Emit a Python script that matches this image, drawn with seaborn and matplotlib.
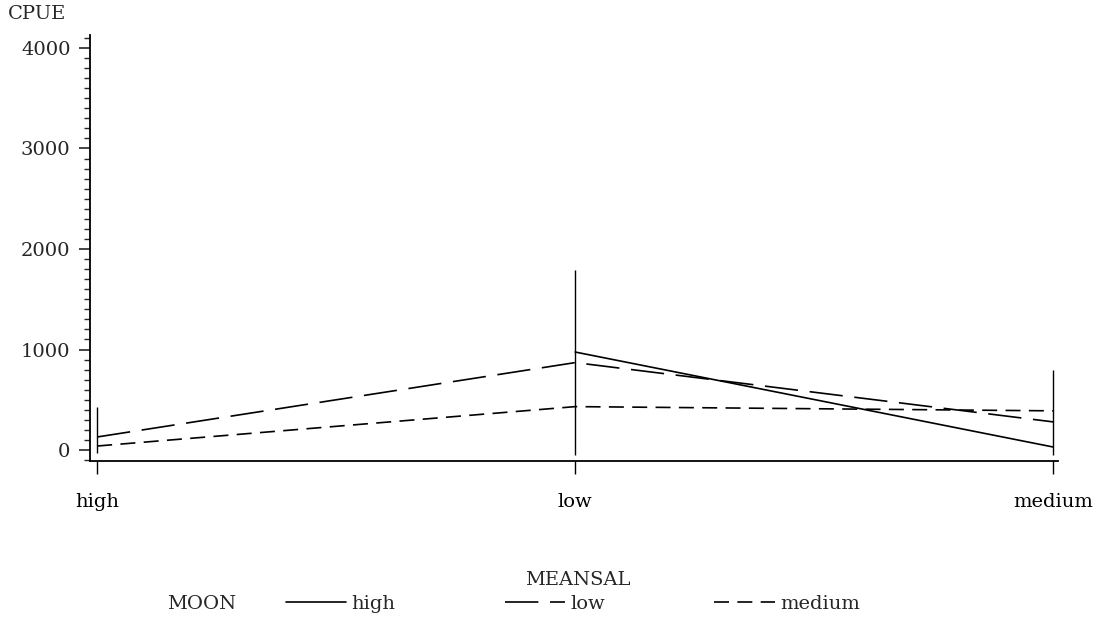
import numpy as np
import pandas as pd
import matplotlib
matplotlib.use("Agg")
import matplotlib.pyplot as plt
from matplotlib.ticker import MultipleLocator
import seaborn as sns

# ---- data ----
categories = ["high", "low", "medium"]          # MEANSAL
moon_levels = ["high", "low", "medium"]         # MOON
cpue_high = [np.nan, 975, 30]
cpue_low = [130, 870, 280]
cpue_medium = [40, 432, 390]
bar_lo = [-30, -50, -50]
bar_hi = [430, 1790, 800]

rows = []
for moon, vals in zip(moon_levels, [cpue_high, cpue_low, cpue_medium]):
    for c, v in zip(categories, vals):
        rows.append({"MEANSAL": c, "CPUE": v, "MOON": moon})
df = pd.DataFrame(rows)

sns.set_style("ticks")
plt.rcParams["font.family"] = ["DejaVu Serif"]
FS = 14

fig = plt.figure(figsize=(11.06, 6.21), dpi=100)
ax = fig.add_axes([90/1106, 1-461/621, 968/1106, 426/621])

palette = {"high": "black", "low": "black", "medium": "black"}
dashes = {"high": "", "low": (20, 7), "medium": (9, 5)}
sns.lineplot(data=df, x="MEANSAL", y="CPUE", hue="MOON", style="MOON",
             hue_order=moon_levels, style_order=moon_levels,
             palette=palette, dashes=dashes, linewidth=1.2,
             sort=False, ax=ax, legend=True)

pos = np.arange(len(categories))
ax.vlines(pos, bar_lo, bar_hi, colors="black", linewidth=1.0)

ax.set_xlim(-0.015, 2.01)
ax.set_ylim(-109, 4129)
ax.set_xticks(pos)
ax.set_xticklabels(categories, fontsize=FS)
ax.set_yticks([0, 1000, 2000, 3000, 4000])
ax.set_yticklabels(["0", "1000", "2000", "3000", "4000"], fontsize=FS)
ax.yaxis.set_minor_locator(MultipleLocator(100))
ax.tick_params(axis="x", direction="out", length=9, width=1.0, pad=14, colors="black")
ax.tick_params(axis="y", which="major", direction="out", length=8, width=1.2, pad=6)
ax.tick_params(axis="y", which="minor", direction="out", length=4, width=1.0)
for s in ["top", "right"]:
    ax.spines[s].set_visible(False)
for s in ["left", "bottom"]:
    ax.spines[s].set_linewidth(1.3)
    ax.spines[s].set_color("black")

ax.set_xlabel("")
ax.set_ylabel("")
fig.text(578/1106, 1-580/621, "MEANSAL", fontsize=FS, ha="center", va="center")
fig.text(8/1106, 1-14/621, "CPUE", fontsize=FS, ha="left", va="center")

handles, labels = ax.get_legend_handles_labels()
ax.get_legend().remove()
fig.text(202/1106, 1-604/621, "MOON", fontsize=FS, ha="center", va="center")
fig.legend(handles, labels, loc="center left", bbox_to_anchor=(268/1106, 1-604/621),
           ncol=3, frameon=False, fontsize=FS, handlelength=3.1, columnspacing=5.6,
           handletextpad=0.3)

fig.savefig("out.png", dpi=100)
